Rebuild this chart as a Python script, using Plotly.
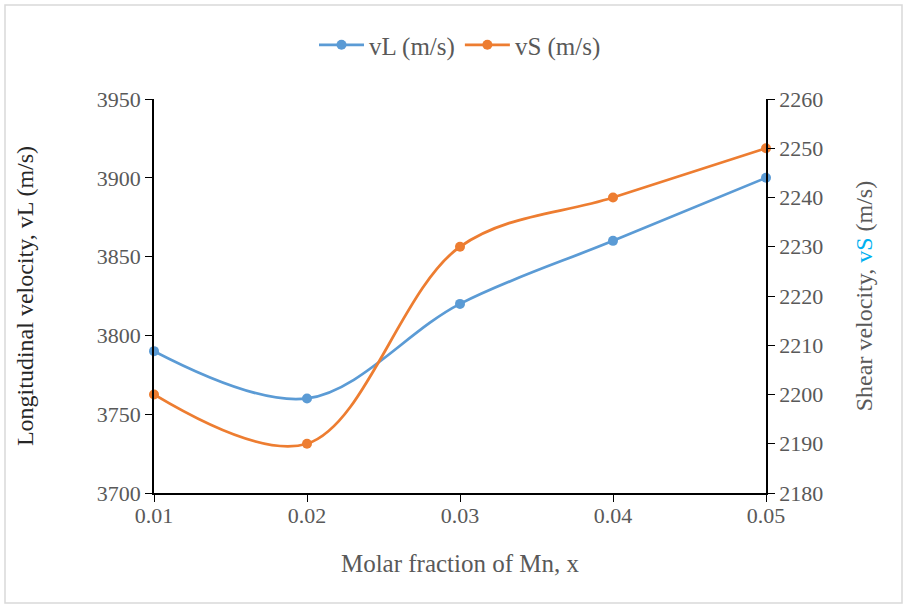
import plotly.graph_objects as go

x_vals = [0.01, 0.02, 0.03, 0.04, 0.05]
vL = [3790, 3760, 3820, 3860, 3900]
vS = [2200, 2190, 2230, 2240, 2250]

blue = "#5B9BD5"
orange = "#ED7D31"
font_family = "Liberation Serif"
grey = "#595959"

fig = go.Figure()
fig.add_trace(go.Scatter(
    x=x_vals, y=vL, name="vL (m/s)", mode="lines+markers",
    line=dict(color=blue, width=2.75, shape="spline", smoothing=1),
    marker=dict(color=blue, size=10), yaxis="y", cliponaxis=False))
fig.add_trace(go.Scatter(
    x=x_vals, y=vS, name="vS (m/s)", mode="lines+markers",
    line=dict(color=orange, width=2.75, shape="spline", smoothing=1),
    marker=dict(color=orange, size=10), yaxis="y2", cliponaxis=False))

W, H = 905, 609
L, R, T, B = 154, 766, 99, 493
pw, ph = R - L, B - T

def px(xp):
    return (xp - L) / pw

def py(yp):
    return (B - yp) / ph

tickfont = dict(family=font_family, size=22, color=grey)

fig.update_layout(
    width=W, height=H,
    margin=dict(l=L, r=W - R, t=T, b=H - B),
    paper_bgcolor="white", plot_bgcolor="white",
    font=dict(family=font_family, size=22, color=grey),
    showlegend=True,
    legend=dict(orientation="h", x=0.5, xanchor="center", y=py(45), yanchor="middle",
                font=dict(family=font_family, size=25, color=grey), itemwidth=45),
    xaxis=dict(
        range=[0.01, 0.05], tickvals=x_vals, ticktext=["0.01", "0.02", "0.03", "0.04", "0.05"],
        showline=True, linecolor="black", linewidth=1.5, ticks="outside", ticklen=7,
        tickcolor="black", showgrid=False, zeroline=False, tickfont=tickfont, automargin=False,
        ticklabelstandoff=-5,
        title=dict(text="Molar fraction of Mn, x", font=dict(family=font_family, size=25, color=grey), standoff=27),
    ),
    yaxis=dict(
        range=[3700, 3950], dtick=50, showline=True, linecolor="black", linewidth=1.5,
        ticks="outside", ticklen=7, tickcolor="black", showgrid=False, zeroline=False,
        tickfont=tickfont, automargin=False,
        title=dict(text="Longitudinal velocity, vL (m/s)", font=dict(family=font_family, size=24, color="#262626"), standoff=56),
    ),
    yaxis2=dict(
        range=[2180, 2260], dtick=10, overlaying="y", side="right",
        showline=True, linecolor="black", linewidth=1.5,
        ticks="outside", ticklen=7, tickcolor="black", showgrid=False, zeroline=False,
        tickfont=tickfont, automargin=False,
        title=dict(text="Shear velocity, <span style='color:#00B0F0'>vS</span> (m/s)",
                   font=dict(family=font_family, size=24, color=grey), standoff=33),
    ),
    shapes=[dict(type="rect", xref="paper", yref="paper",
                 x0=px(5), x1=px(902), y0=py(603), y1=py(5),
                 line=dict(color="#D9D9D9", width=1.5), fillcolor="rgba(0,0,0,0)", layer="below")],
)

fig.write_html("out.html")
